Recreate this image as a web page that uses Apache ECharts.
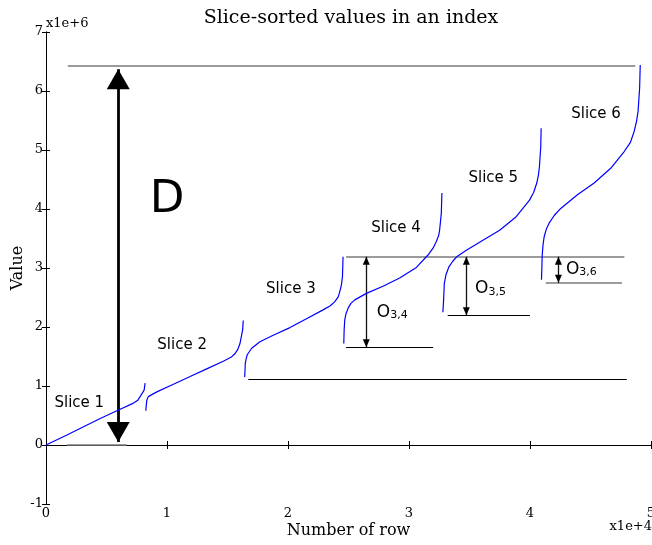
<!DOCTYPE html>
<html><head><meta charset="utf-8">
<script src="https://cdn.jsdelivr.net/npm/echarts@6/dist/echarts.min.js"></script>
<style>html,body{margin:0;padding:0;background:#fff}#c{width:652px;height:545px}</style>
</head><body><div id="c"></div>
<script>
// ---- axis ticks ----
const xTickValues = [0, 10000, 20000, 30000, 40000, 50000];
const xTickLabels = ['0', '1', '2', '3', '4', '5'];
const yTickValues = [-1000000, 0, 1000000, 2000000, 3000000, 4000000, 5000000, 6000000, 7000000];
const yTickLabels = ['-1', '0', '1', '2', '3', '4', '5', '6', '7'];

// ---- slice-sorted values (row number, value) ----
const slice1Rows = [0, 1730, 4480, 5860, 7230, 7590, 7780, 8110, 8190];
const slice1Values = [0, 170000, 450000, 580000, 710000, 760000, 820000, 930000, 1050000];
const slice2Rows = [8250, 8290, 8330, 8450, 8610, 9160, 10530, 11910, 13280, 14650, 15320, 15620, 15850, 16030, 16250, 16300];
const slice2Values = [580000, 680000, 760000, 820000, 850000, 900000, 1030000, 1160000, 1290000, 1420000, 1490000, 1550000, 1620000, 1720000, 1950000, 2110000];
const slice3Rows = [16420, 16450, 16470, 16540, 16630, 17000, 17680, 18780, 20160, 21530, 22900, 23500, 23870, 24150, 24280, 24420, 24500, 24550];
const slice3Values = [1150000, 1270000, 1380000, 1460000, 1530000, 1640000, 1750000, 1860000, 1990000, 2140000, 2290000, 2360000, 2430000, 2510000, 2600000, 2720000, 2850000, 3190000];
const slice4Rows = [24610, 24640, 24690, 24800, 24970, 25200, 25520, 26480, 27850, 29230, 30610, 31570, 32000, 32260, 32450, 32530, 32670, 32720];
const slice4Values = [1720000, 1950000, 2120000, 2230000, 2320000, 2400000, 2460000, 2570000, 2690000, 2830000, 3010000, 3220000, 3340000, 3450000, 3550000, 3640000, 3930000, 4270000];
const slice5Rows = [32800, 32830, 32860, 32920, 33050, 33300, 33600, 33940, 34740, 36110, 37490, 38860, 39960, 40300, 40560, 40700, 40780, 40890, 40920];
const slice5Values = [2250000, 2350000, 2460000, 2740000, 2880000, 3020000, 3110000, 3190000, 3300000, 3470000, 3640000, 3870000, 4150000, 4280000, 4440000, 4580000, 4720000, 5060000, 5370000];
const slice6Rows = [40950, 40980, 41010, 41080, 41170, 41350, 41580, 42000, 42540, 43920, 45300, 46670, 47770, 48300, 48600, 48800, 48930, 49060, 49110];
const slice6Values = [2800000, 3000000, 3220000, 3400000, 3530000, 3660000, 3760000, 3890000, 4010000, 4240000, 4440000, 4690000, 4970000, 5130000, 5310000, 5480000, 5650000, 6050000, 6440000];

// ---- guide lines ----
const grayLineStart = [1800, 1730, 24800, 41300];
const grayLineEnd = [48700, 6680, 47800, 47600];
const grayLineValue = [6430000, 0, 3190000, 2750000];
const blackLineStart = [16720, 24800, 33200];
const blackLineEnd = [48000, 32000, 40000];
const blackLineValue = [1110000, 1655000, 2200000];

// ---- arrows ----
const dArrowRow = 5970;
const dArrowTop = 6370000;
const dArrowBottom = 50000;
const offsetArrowRows = [26470, 34740, 42350];
const offsetArrowTop = 3190000;
const offsetArrowBottoms = [1655000, 2200000, 2750000];

// ---- annotations ----
const sliceLabels = ['Slice 1', 'Slice 2', 'Slice 3', 'Slice 4', 'Slice 5', 'Slice 6'];
const sliceLabelRows = [2750, 11250, 20240, 28930, 36970, 45460];
const sliceLabelValues = [717000, 1695000, 2640000, 3670000, 4530000, 5605000];
const offsetLabelSubs = ['3,4', '3,5', '3,6'];
const offsetLabelRows = [27300, 35420, 42930];
const offsetLabelValues = [2260000, 2656000, 2983000];
const dLabelRow = 10000;
const dLabelValue = 4150000;

const zip = (a, b) => a.map((v, i) => [v, b[i]]);
const slices = [
  zip(slice1Rows, slice1Values), zip(slice2Rows, slice2Values), zip(slice3Rows, slice3Values),
  zip(slice4Rows, slice4Values), zip(slice5Rows, slice5Values), zip(slice6Rows, slice6Values)
];

const SERIF = '"DejaVu Serif", serif';
const SANS = '"DejaVu Sans", sans-serif';

const xLab = v => { const i = xTickValues.indexOf(v); return i >= 0 ? xTickLabels[i] : ''; };
const yLab = v => { const i = yTickValues.indexOf(v); return i >= 0 ? yTickLabels[i] : ''; };

const chart = echarts.init(document.getElementById('c'), null, { renderer: 'canvas' });

const baseAxisLine = { show: true, lineStyle: { color: '#000', width: 1 } };
const tickStyle = { show: true, inside: true, length: 4, lineStyle: { color: '#000', width: 1 } };

const series = [];
series.push({
  type: 'lines', coordinateSystem: 'cartesian2d', z: 2, silent: true,
  lineStyle: { color: '#7a7a7a', width: 1.5, opacity: 1 },
  data: grayLineStart.map((s, i) => ({ coords: [[s, grayLineValue[i]], [grayLineEnd[i], grayLineValue[i]]] }))
});
series.push({
  type: 'lines', coordinateSystem: 'cartesian2d', z: 2, silent: true,
  lineStyle: { color: '#000', width: 1.2, opacity: 1 },
  data: blackLineStart.map((s, i) => ({ coords: [[s, blackLineValue[i]], [blackLineEnd[i], blackLineValue[i]]] }))
});
series.push({
  type: 'lines', coordinateSystem: 'cartesian2d', z: 3, silent: true,
  lineStyle: { color: '#000', width: 2.8, opacity: 1, cap: 'butt' },
  data: [{ coords: [[dArrowRow, dArrowTop], [dArrowRow, dArrowBottom]] }]
});
series.push({
  type: 'lines', coordinateSystem: 'cartesian2d', z: 3, silent: true,
  lineStyle: { color: '#111', width: 1.3, opacity: 1 },
  data: offsetArrowRows.map((r, i) => ({ coords: [[r, offsetArrowTop], [r, offsetArrowBottoms[i]]] }))
});
// arrow heads
series.push({
  type: 'scatter', z: 4, silent: true,
  symbol: 'triangle',
  data: [
    { value: [dArrowRow, dArrowTop], symbolSize: [23, 20], symbolRotate: 0, symbolOffset: [0, 10] },
    { value: [dArrowRow, dArrowBottom], symbolSize: [23, 20], symbolRotate: 180, symbolOffset: [0, -10] }
  ].concat(offsetArrowRows.flatMap((r, i) => [
    { value: [r, offsetArrowTop], symbolSize: [7, 8], symbolRotate: 0, symbolOffset: [0, 4] },
    { value: [r, offsetArrowBottoms[i]], symbolSize: [7, 8], symbolRotate: 180, symbolOffset: [0, -4] }
  ])),
  itemStyle: { color: '#000', opacity: 1 }
});
// slice curves
slices.forEach(d => series.push({
  type: 'line', data: d, showSymbol: false, symbol: 'none', z: 5, silent: true,
  smooth: false,
  lineStyle: { color: '#0000ff', width: 1.2 }
}));
const labelBase = { itemStyle: { color: 'transparent', opacity: 1 }, emphasis: { disabled: true } };
// slice labels
series.push(Object.assign({
  type: 'scatter', z: 6, silent: true, symbolSize: 1,
  data: sliceLabels.map((t, i) => ({ value: [sliceLabelRows[i], sliceLabelValues[i]], name: t })),
  label: { show: true, position: 'inside', formatter: p => p.name, fontFamily: SANS, fontSize: 15, color: '#000', opacity: 1 }
}, labelBase));
// offset labels
series.push(Object.assign({
  type: 'scatter', z: 6, silent: true, symbolSize: 1,
  data: offsetLabelSubs.map((t, i) => ({ value: [offsetLabelRows[i], offsetLabelValues[i]], name: t })),
  label: {
    show: true, position: 'right', distance: 0, align: 'left', opacity: 1,
    formatter: p => '{o|O}{s|' + p.name + '}',
    rich: {
      o: { fontFamily: SANS, fontSize: 17, color: '#000', verticalAlign: 'bottom', lineHeight: 18 },
      s: { fontFamily: SANS, fontSize: 11, color: '#000', verticalAlign: 'bottom', lineHeight: 18 }
    }
  }
}, labelBase));
// D label
series.push(Object.assign({
  type: 'scatter', z: 6, silent: true, symbolSize: 1,
  data: [{ value: [dLabelRow, dLabelValue], name: 'D' }],
  label: { show: true, position: 'inside', formatter: 'D', fontFamily: SANS, fontSize: 45, color: '#000', opacity: 1 }
}, labelBase));

chart.setOption({
  animation: false,
  backgroundColor: '#fff',
  title: {
    text: 'Slice-sorted values in an index', left: 346, top: 4, textAlign: 'center',
    textStyle: { fontFamily: SERIF, fontSize: 19, fontWeight: 'normal', color: '#000' }
  },
  grid: { left: 46, right: 1, top: 32, bottom: 41, containLabel: false, outerBoundsMode: 'none' },
  xAxis: [{
    type: 'value', min: 0, max: 50000, interval: 10000,
    axisLine: baseAxisLine, axisTick: tickStyle, splitLine: { show: false },
    axisLabel: { formatter: xLab, fontFamily: SERIF, fontSize: 13, color: '#000', margin: 3, showMinLabel: true, showMaxLabel: true },
    name: 'Number of row', nameLocation: 'middle', nameGap: 19, nameMoveOverlap: false,
    nameTextStyle: { fontFamily: SERIF, fontSize: 16, color: '#000' }
  }, {
    type: 'value', position: 'top', min: 0, max: 50000, interval: 10000,
    axisLine: baseAxisLine, axisTick: tickStyle, splitLine: { show: false }, axisLabel: { show: false }
  }],
  yAxis: [{
    type: 'value', min: -1000000, max: 7000000, interval: 1000000,
    axisLine: baseAxisLine, axisTick: tickStyle, splitLine: { show: false },
    axisLabel: { formatter: yLab, fontFamily: SERIF, fontSize: 13, color: '#000', margin: 3, showMinLabel: true, showMaxLabel: true },
    name: 'Value', nameLocation: 'middle', nameGap: 20, nameRotate: 90, nameMoveOverlap: false,
    nameTextStyle: { fontFamily: SERIF, fontSize: 16, color: '#000' }
  }, {
    type: 'value', position: 'right', min: -1000000, max: 7000000, interval: 1000000,
    axisLine: baseAxisLine, axisTick: tickStyle, splitLine: { show: false }, axisLabel: { show: false }
  }],
  graphic: [
    { type: 'text', x: 46, y: 24, style: { text: 'x1e+6', font: '13px "DejaVu Serif"', fill: '#000', verticalAlign: 'middle', align: 'left' } },
    { type: 'text', x: 652, y: 527, style: { text: 'x1e+4', font: '13px "DejaVu Serif"', fill: '#000', verticalAlign: 'middle', align: 'right' } }
  ],
  series: series
});
</script>
</body></html>
